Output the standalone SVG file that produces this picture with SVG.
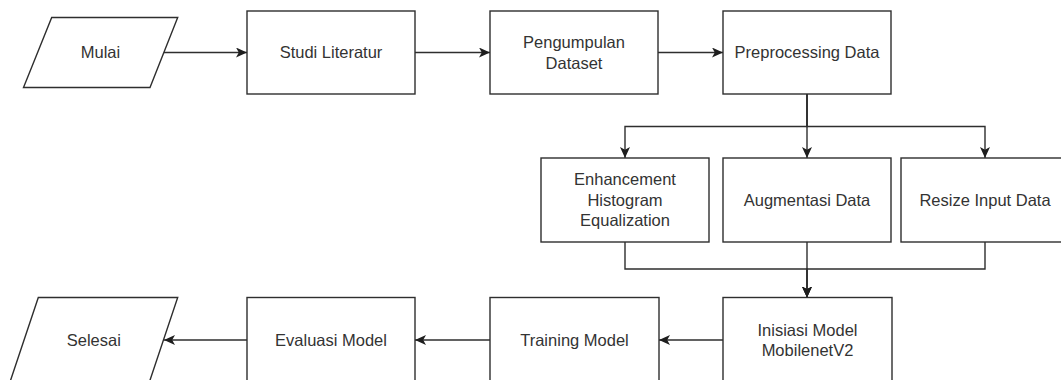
<svg xmlns="http://www.w3.org/2000/svg" width="1061" height="380" viewBox="0 0 1061 380">
  <style>
    .shape { fill: #ffffff; stroke: #2e2e2e; stroke-width: 1.4; }
    .lbl { font-family: "Liberation Sans", Arial, sans-serif; font-size: 16.5px; fill: #333333; text-anchor: middle; }
    .edge { fill: none; stroke: #2e2e2e; stroke-width: 1.4; }
  </style>
  <defs>
    <marker id="arrow" viewBox="0 0 11 10" refX="11" refY="5" markerWidth="11" markerHeight="10" markerUnits="userSpaceOnUse" orient="auto">
      <path d="M0,0 L11,5 L0,10 L2.8,5 Z" fill="#1e1e1e"/>
    </marker>
  </defs>
  <rect width="1061" height="380" fill="#ffffff"/>

  <g id="connectors">
    <path class="edge" marker-end="url(#arrow)" d="M164,52.5 L247,52.5"/>
    <path class="edge" marker-end="url(#arrow)" d="M415,52.5 L490,52.5"/>
    <path class="edge" marker-end="url(#arrow)" d="M658,52.5 L723,52.5"/>
    <path class="edge" marker-end="url(#arrow)" d="M807,94 L807,126.5 L625,126.5 L625,158"/>
    <path class="edge" marker-end="url(#arrow)" d="M807,94 L807,158"/>
    <path class="edge" marker-end="url(#arrow)" d="M807,94 L807,126.5 L985,126.5 L985,158"/>
    <path class="edge" marker-end="url(#arrow)" d="M625,242 L625,269 L807,269 L807,297.5"/>
    <path class="edge" marker-end="url(#arrow)" d="M807,242 L807,297.5"/>
    <path class="edge" marker-end="url(#arrow)" d="M985,242 L985,269 L807,269 L807,297.5"/>
    <path class="edge" marker-end="url(#arrow)" d="M723,340 L659,340"/>
    <path class="edge" marker-end="url(#arrow)" d="M490,340 L415,340"/>
    <path class="edge" marker-end="url(#arrow)" d="M247,340 L164,340"/>
  </g>

  <g id="mulai">
    <polygon class="shape" points="51.7,17.5 177.7,17.5 150,87.5 23.5,87.5"/>
    <text class="lbl" x="100.5" y="58.3">Mulai</text>
  </g>
  <g id="studi-literatur">
    <rect class="shape" x="247" y="11" width="168" height="83"/>
    <text class="lbl" x="331" y="58.3">Studi Literatur</text>
  </g>
  <g id="pengumpulan-dataset">
    <rect class="shape" x="490" y="11" width="168" height="83"/>
    <text class="lbl" x="574" y="48.2">Pengumpulan</text>
    <text class="lbl" x="574" y="68.8">Dataset</text>
  </g>
  <g id="preprocessing-data">
    <rect class="shape" x="723" y="11" width="168" height="83"/>
    <text class="lbl" x="807" y="58.3">Preprocessing Data</text>
  </g>
  <g id="enhancement">
    <rect class="shape" x="541" y="158" width="168" height="84"/>
    <text class="lbl" x="625" y="185.2">Enhancement</text>
    <text class="lbl" x="625" y="205.6">Histogram</text>
    <text class="lbl" x="625" y="226">Equalization</text>
  </g>
  <g id="augmentasi-data">
    <rect class="shape" x="723" y="158" width="168" height="84"/>
    <text class="lbl" x="807" y="205.8">Augmentasi Data</text>
  </g>
  <g id="resize-input-data">
    <rect class="shape" x="901" y="158" width="168" height="84"/>
    <text class="lbl" x="985" y="205.8">Resize Input Data</text>
  </g>
  <g id="inisiasi-model">
    <rect class="shape" x="723" y="297.5" width="169" height="84"/>
    <text class="lbl" x="807.5" y="335.8">Inisiasi Model</text>
    <text class="lbl" x="807.5" y="356.4">MobilenetV2</text>
  </g>
  <g id="training-model">
    <rect class="shape" x="490" y="297.5" width="169" height="84"/>
    <text class="lbl" x="574.5" y="345.8">Training Model</text>
  </g>
  <g id="evaluasi-model">
    <rect class="shape" x="247" y="297.5" width="168" height="84"/>
    <text class="lbl" x="331" y="345.8">Evaluasi Model</text>
  </g>
  <g id="selesai">
    <polygon class="shape" points="38.3,297.5 177.7,297.5 149.4,382 10,382"/>
    <text class="lbl" x="93.8" y="345.8">Selesai</text>
  </g>
</svg>
